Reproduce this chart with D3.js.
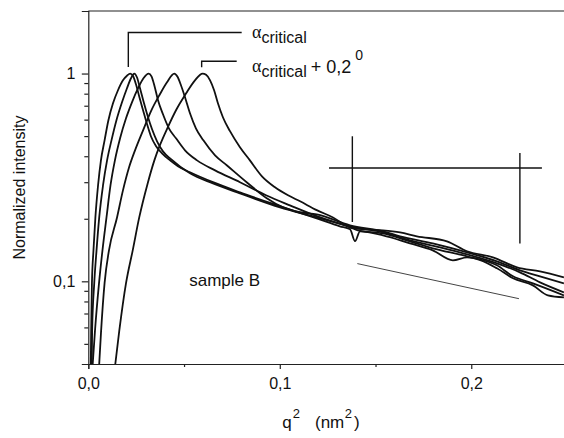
<!DOCTYPE html>
<meta charset="utf-8">
<script src="https://d3js.org/d3.v7.min.js"></script>
<style>
  body { margin: 0; background: #fff; }
  text { font-family: "Liberation Sans", Arial, sans-serif; fill: #111; }
  .axis path, .axis line { stroke: #222; stroke-width: 1.2; }
  .axis text { font-size: 16px; }
</style>
<body>
<div id="my_dataviz"></div>
<script>
// q^2 (nm^2) and normalized intensity, one pair of arrays per curve
var qA = [0.0013, 0.0015, 0.0019, 0.0027, 0.0037, 0.0051, 0.0066, 0.0085, 0.0105, 0.0129, 0.0155, 0.0181,
          0.0202, 0.0219, 0.0233, 0.0249, 0.0267, 0.0286, 0.0307, 0.0327, 0.0354, 0.0385, 0.0427, 0.0468,
          0.0531, 0.0651, 0.0792, 0.1001, 0.1193, 0.1314, 0.1367, 0.1393, 0.1419, 0.1539, 0.1680, 0.1799,
          0.1904, 0.1978, 0.2134, 0.2218, 0.2322, 0.2400, 0.2484];
var iA = [0.040, 0.058, 0.098, 0.141, 0.203, 0.290, 0.382, 0.477, 0.596, 0.719, 0.831, 0.928,
          0.976, 1.000, 0.976, 0.888, 0.769, 0.666, 0.570, 0.499, 0.447, 0.413, 0.382, 0.358,
          0.335, 0.300, 0.268, 0.230, 0.201, 0.184, 0.178, 0.156, 0.174, 0.1665, 0.1524, 0.1410,
          0.1262, 0.1305, 0.1155, 0.1034, 0.0956, 0.0856, 0.0837];

var qB = [0.0018, 0.0020, 0.0031, 0.0043, 0.0057, 0.0077, 0.0098, 0.0121, 0.0147, 0.0176, 0.0202, 0.0223,
          0.0240, 0.0254, 0.0270, 0.0291, 0.0312, 0.0333, 0.0359, 0.0390, 0.0432, 0.0531, 0.0651, 0.0792,
          0.1001, 0.1193, 0.1367, 0.1408, 0.1539, 0.1680, 0.1799, 0.1978, 0.2134, 0.2218, 0.2322, 0.2484];
var iB = [0.040, 0.058, 0.098, 0.141, 0.203, 0.290, 0.382, 0.477, 0.596, 0.727, 0.850, 0.949,
          1.000, 0.960, 0.850, 0.719, 0.616, 0.539, 0.472, 0.422, 0.387, 0.331, 0.296, 0.265,
          0.227, 0.203, 0.182, 0.176, 0.170, 0.1558, 0.1442, 0.1320, 0.1194, 0.1057, 0.0978, 0.0856];

var qC = [0.0023, 0.0035, 0.0056, 0.0074, 0.0095, 0.0116, 0.0139, 0.0166, 0.0197, 0.0228, 0.0260, 0.0288,
          0.0315, 0.0330, 0.0346, 0.0364, 0.0390, 0.0421, 0.0458, 0.0505, 0.0568, 0.0662, 0.0792, 0.0928,
          0.1053, 0.1193, 0.1367, 0.1539, 0.1680, 0.1837, 0.1978, 0.2134, 0.2254, 0.2359, 0.2484];
var iC = [0.040, 0.058, 0.098, 0.141, 0.203, 0.290, 0.382, 0.488, 0.609, 0.727, 0.850, 0.949,
          1.000, 0.970, 0.869, 0.744, 0.637, 0.545, 0.488, 0.427, 0.382, 0.342, 0.300, 0.2595,
          0.232, 0.206, 0.184, 0.172, 0.1576, 0.1458, 0.1349, 0.1221, 0.1105, 0.0989, 0.0885];

var qD = [0.0057, 0.0066, 0.0085, 0.0108, 0.0150, 0.0181, 0.0213, 0.0244, 0.0286, 0.0327, 0.0374, 0.0411,
          0.0449, 0.0466, 0.0484, 0.0505, 0.0531, 0.0562, 0.0601, 0.0662, 0.0723, 0.0827, 0.0932, 0.1017,
          0.1106, 0.1193, 0.1367, 0.1539, 0.1628, 0.1799, 0.1978, 0.2134, 0.2254, 0.2359, 0.2484];
var iD = [0.040, 0.056, 0.098, 0.141, 0.203, 0.274, 0.354, 0.427, 0.533, 0.658, 0.795, 0.908,
          1.000, 0.965, 0.878, 0.769, 0.644, 0.545, 0.477, 0.404, 0.362, 0.300, 0.251, 0.227,
          0.215, 0.210, 0.186, 0.174, 0.1647, 0.1524, 0.1379, 0.1248, 0.1130, 0.1057, 0.0978];

var qE = [0.0141, 0.0162, 0.0197, 0.0232, 0.0266, 0.0310, 0.0345, 0.0374, 0.0415, 0.0458, 0.0510, 0.0557,
          0.0597, 0.0615, 0.0636, 0.0657, 0.0677, 0.0703, 0.0740, 0.0792, 0.0844, 0.0907, 0.0975, 0.1043,
          0.1106, 0.1193, 0.1278, 0.1367, 0.1445, 0.1539, 0.1628, 0.1716, 0.1873, 0.1978, 0.2113, 0.2239,
          0.2359, 0.2484];
var iE = [0.040, 0.058, 0.098, 0.141, 0.203, 0.296, 0.382, 0.452, 0.551, 0.666, 0.801, 0.928,
          1.000, 0.987, 0.928, 0.831, 0.719, 0.616, 0.528, 0.442, 0.382, 0.320, 0.2835, 0.2595,
          0.2427, 0.220, 0.203, 0.182, 0.178, 0.176, 0.172, 0.1647, 0.1558, 0.1395, 0.1305, 0.1168,
          0.1117, 0.1045];

// axis ticks
var xMajor = [0, 0.1, 0.2];
var xLabels = ["0,0", "0,1", "0,2"];
var xMinor = [0.05, 0.15, 0.25];
var yMajor = [0.1, 1];
var yLabels = ["0,1", "1"];
var yMinor = [0.05, 0.06, 0.07, 0.08, 0.09, 0.2, 0.3, 0.4, 0.5, 0.6, 0.7, 0.8, 0.9];

// annotation anchors in data units
var bracket1 = {q: 0.0209, qEnd: 0.0801, top: 1.576, low: 1.076};
var bracket2 = {q: 0.0592, qEnd: 0.0775, top: 1.146, low: 1.072};
var crossH = {q0: 0.1257, q1: 0.2369, i: 0.351};
var crossV = [{q: 0.1379, i0: 0.499, i1: 0.193}, {q: 0.2254, i0: 0.415, i1: 0.152}];
var slope = {q: [0.1405, 0.2249], i: [0.1217, 0.0825]};

var margin = {top: 11, left: 88.3},
    width = 478.7,
    height = 353;

var svg = d3.select("#my_dataviz")
  .append("svg")
    .attr("width", 564)
    .attr("height", 438)
  .append("g")
    .attr("transform", "translate(" + margin.left + "," + margin.top + ")");

var x = d3.scaleLinear().domain([0, 0.25]).range([0, width]);
var y = d3.scaleLog().domain([0.04, 2]).range([height, 0]);

svg.append("clipPath").attr("id", "clip")
  .append("rect").attr("width", width).attr("height", height);

// curves
var curves = [[qA, iA], [qB, iB], [qC, iC], [qD, iD], [qE, iE]];
var line = d3.line()
  .x(function(d) { return x(d[0]); })
  .y(function(d) { return y(d[1]); })
  .curve(d3.curveMonotoneX);

svg.append("g").attr("clip-path", "url(#clip)")
  .selectAll("path")
  .data(curves)
  .enter().append("path")
    .attr("fill", "none")
    .attr("stroke", "#111")
    .attr("stroke-width", 1.8)
    .attr("stroke-linejoin", "round")
    .attr("d", function(c) { return line(d3.zip(c[0], c[1])); });

// X axis
svg.append("g").attr("class", "axis")
  .attr("transform", "translate(0," + height + ")")
  .call(d3.axisBottom(x).tickValues(xMajor).tickSize(5).tickPadding(9)
    .tickFormat(function(d, i) { return xLabels[i]; }));
svg.append("g").attr("class", "axis")
  .attr("transform", "translate(0," + height + ")")
  .call(d3.axisBottom(x).tickValues(xMinor).tickSize(3).tickFormat(""))
  .select(".domain").remove();

// Y axis
svg.append("g").attr("class", "axis")
  .call(d3.axisLeft(y).tickValues(yMajor).tickSize(6.5).tickPadding(6.5)
    .tickFormat(function(d, i) { return yLabels[i]; }));
svg.append("g").attr("class", "axis")
  .call(d3.axisLeft(y).tickValues(yMinor).tickSize(4).tickFormat(""))
  .select(".domain").remove();

// top and right frame
svg.append("line")
  .attr("x1", 0).attr("x2", width).attr("y1", 0).attr("y2", 0)
  .attr("stroke", "#222").attr("stroke-width", 1.2);
svg.append("line")
  .attr("x1", width).attr("x2", width).attr("y1", 0).attr("y2", height)
  .attr("stroke", "#222").attr("stroke-width", 1.2);

// axis titles
svg.append("text")
  .attr("transform", "rotate(-90)")
  .attr("x", -height / 2)
  .attr("y", -63)
  .attr("text-anchor", "middle")
  .style("font-size", "16px")
  .text("Normalized intensity");

var xt = svg.append("text")
  .attr("x", 194)
  .attr("y", 417)
  .style("font-size", "17px");
xt.append("tspan").text("q");
xt.append("tspan").attr("dx", 1).attr("dy", -10).style("font-size", "13px").text("2");
xt.append("tspan").attr("dx", 15).attr("dy", 10).text("(nm");
xt.append("tspan").attr("dx", 0.5).attr("dy", -10).style("font-size", "13px").text("2");
xt.append("tspan").attr("dx", 2).attr("dy", 10).text(")");

// annotation brackets and markers
var ann = svg.append("g").attr("stroke", "#111").attr("stroke-width", 1.4).attr("fill", "none");
[bracket1, bracket2].forEach(function(b) {
  ann.append("path").attr("d", "M" + x(b.q) + "," + y(b.low) + "V" + y(b.top) + "H" + x(b.qEnd));
});
ann.append("line")
  .attr("x1", x(crossH.q0)).attr("x2", x(crossH.q1))
  .attr("y1", y(crossH.i)).attr("y2", y(crossH.i));
crossV.forEach(function(v) {
  ann.append("line")
    .attr("x1", x(v.q)).attr("x2", x(v.q))
    .attr("y1", y(v.i0)).attr("y2", y(v.i1));
});
svg.append("line")
  .attr("x1", x(slope.q[0])).attr("x2", x(slope.q[1]))
  .attr("y1", y(slope.i[0])).attr("y2", y(slope.i[1]))
  .attr("stroke", "#444").attr("stroke-width", 1);

// alpha labels
var lab1 = svg.append("text").attr("x", x(0.0855)).attr("y", y(1.479));
lab1.append("tspan").style("font-family", "Liberation Serif, serif").style("font-size", "18px").text("α");
lab1.append("tspan").attr("dy", 5).style("font-size", "16px").text("critical");

var lab2 = svg.append("text").attr("x", x(0.0855)).attr("y", y(1.0145));
lab2.append("tspan").style("font-family", "Liberation Serif, serif").style("font-size", "18px").text("α");
lab2.append("tspan").attr("dy", 5).style("font-size", "16px").text("critical");
lab2.append("tspan").attr("dx", 4).attr("dy", -4).style("font-size", "18px").text("+ 0,2");
lab2.append("tspan").attr("dx", 4).attr("dy", -13).style("font-size", "14px").text("0");

svg.append("text")
  .attr("x", x(0.0527))
  .attr("y", y(0.0946))
  .style("font-size", "17px")
  .text("sample B");
</script>
</body>
</html>
